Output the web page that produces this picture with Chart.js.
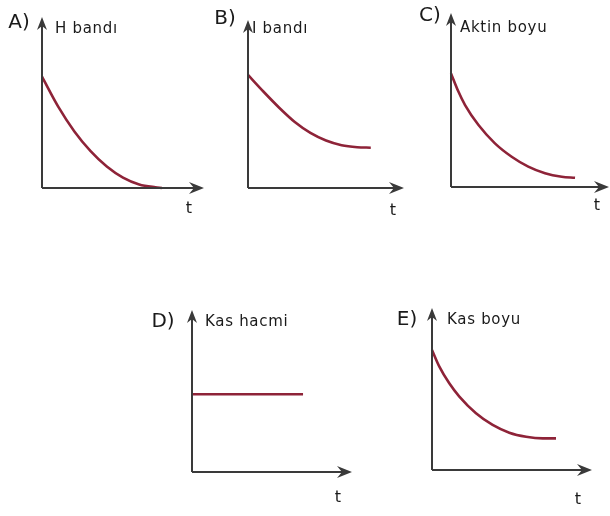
<!DOCTYPE html>
<html>
<head>
<meta charset="utf-8">
<script src="https://cdn.jsdelivr.net/npm/chart.js@4"></script>
<style>
  html, body { margin: 0; padding: 0; background: #fff; }
  #wrap { position: relative; width: 610px; height: 516px; }
  canvas { position: absolute; left: 0; top: 0; }
</style>
</head>
<body>
<div id="wrap">
  <canvas id="cA" width="610" height="516"></canvas>
  <canvas id="cB" width="610" height="516"></canvas>
  <canvas id="cC" width="610" height="516"></canvas>
  <canvas id="cD" width="610" height="516"></canvas>
  <canvas id="cE" width="610" height="516"></canvas>
</div>
<script>
// ---- data ----
const panelLetters = ['A)', 'B)', 'C)', 'D)', 'E)'];
const axisTitles = ['H bandı', 'I bandı', 'Aktin boyu', 'Kas hacmi', 'Kas boyu'];
const timeLabel = 't';

const tA = [0, 1, 2, 3, 4, 5, 6, 7, 7.4];
const hBandi = [6.51, 4.76, 3.31, 2.16, 1.26, 0.61, 0.21, 0.04, 0];

const tB = [0, 1, 2, 3, 4, 5, 6, 7, 7.87];
const iBandi = [6.73, 5.73, 4.78, 3.93, 3.28, 2.83, 2.55, 2.43, 2.40];

const tC = [0, 0.46, 0.89, 1.74, 2.78, 3.84, 4.89, 5.95, 7.01, 7.85];
const aktinBoyu = [6.53, 5.50, 4.71, 3.56, 2.51, 1.74, 1.17, 0.79, 0.59, 0.53];

const tD = [0, 6.94];
const kasHacmi = [4.8, 4.8];

const tE = [0, 0.46, 1.08, 1.71, 2.75, 3.79, 4.83, 5.88, 6.92, 7.75];
const kasBoyu = [7.41, 6.38, 5.35, 4.53, 3.50, 2.78, 2.30, 2.05, 1.95, 1.95];

// ---- layout (page pixels) ----
const frames = [
  { id: 'cA', ox: 42,  oy: 188, xe: 204, ye: 17,  letter: [19, 23],  title: [55, 29],  tl: [189, 209] },
  { id: 'cB', ox: 248, oy: 188, xe: 404, ye: 20,  letter: [225, 19], title: [252, 29], tl: [393, 211] },
  { id: 'cC', ox: 451, oy: 187, xe: 609, ye: 13,  letter: [430, 16], title: [460, 28], tl: [597, 206] },
  { id: 'cD', ox: 192, oy: 472, xe: 352, ye: 310, letter: [163, 322], title: [205, 322], tl: [338, 498] },
  { id: 'cE', ox: 432, oy: 470, xe: 592, ye: 308, letter: [407, 320], title: [447, 320], tl: [578, 500] }
];
const xsList = [tA, tB, tC, tD, tE];
const ysList = [hBandi, iBandi, aktinBoyu, kasHacmi, kasBoyu];

const AXIS = '#3a3a3a';
const CURVE = '#8e2338';

const decorPlugin = {
  id: 'decor',
  afterDraw(chart, args, opts) {
    const ctx = chart.ctx;
    const xs = chart.scales.x, ys = chart.scales.y;
    const L = xs.getPixelForValue(0), R = xs.getPixelForValue(10);
    const B = ys.getPixelForValue(0), T = ys.getPixelForValue(10);
    ctx.save();
    ctx.strokeStyle = AXIS; ctx.fillStyle = AXIS; ctx.lineWidth = 2;
    ctx.beginPath();
    ctx.moveTo(L, B); ctx.lineTo(R - 8, B);
    ctx.moveTo(L, B); ctx.lineTo(L, T + 8);
    ctx.stroke();
    ctx.beginPath();
    ctx.moveTo(R, B); ctx.lineTo(R - 15, B - 6); ctx.lineTo(R - 10, B); ctx.lineTo(R - 15, B + 6);
    ctx.closePath(); ctx.fill();
    ctx.beginPath();
    ctx.moveTo(L, T); ctx.lineTo(L - 5, T + 13); ctx.lineTo(L, T + 9); ctx.lineTo(L + 5, T + 13);
    ctx.closePath(); ctx.fill();
    ctx.fillStyle = '#1a1a1a';
    ctx.textBaseline = 'middle';
    ctx.textAlign = 'center';
    ctx.font = '20px "DejaVu Sans", sans-serif';
    ctx.fillText(opts.letter, opts.letterPos[0], opts.letterPos[1]);
    ctx.font = '16px "DejaVu Sans", sans-serif';
    ctx.fillText(timeLabel, opts.tPos[0], opts.tPos[1]);
    ctx.textAlign = 'left';
    ctx.font = '15px "DejaVu Sans", sans-serif';
    try { ctx.letterSpacing = '0.7px'; } catch (e) {}
    ctx.fillText(opts.title, opts.titlePos[0], opts.titlePos[1]);
    ctx.restore();
  }
};

frames.forEach((f, i) => {
  const pts = xsList[i].map((x, k) => ({ x: x, y: ysList[i][k] }));
  new Chart(document.getElementById(f.id), {
    type: 'line',
    data: {
      datasets: [{
        label: axisTitles[i],
        data: pts,
        borderColor: CURVE,
        borderWidth: 2.6,
        pointRadius: 0,
        fill: false,
        cubicInterpolationMode: 'monotone',
        clip: false
      }]
    },
    options: {
      responsive: false,
      animation: false,
      events: [],
      layout: { padding: { left: f.ox, top: f.ye, right: 610 - f.xe, bottom: 516 - f.oy } },
      scales: {
        x: { type: 'linear', min: 0, max: 10, display: false },
        y: { type: 'linear', min: 0, max: 10, display: false }
      },
      plugins: {
        legend: { display: false },
        tooltip: { enabled: false },
        decor: {
          letter: panelLetters[i], letterPos: f.letter,
          title: axisTitles[i], titlePos: f.title,
          tPos: f.tl
        }
      }
    },
    plugins: [decorPlugin]
  });
});
</script>
</body>
</html>
